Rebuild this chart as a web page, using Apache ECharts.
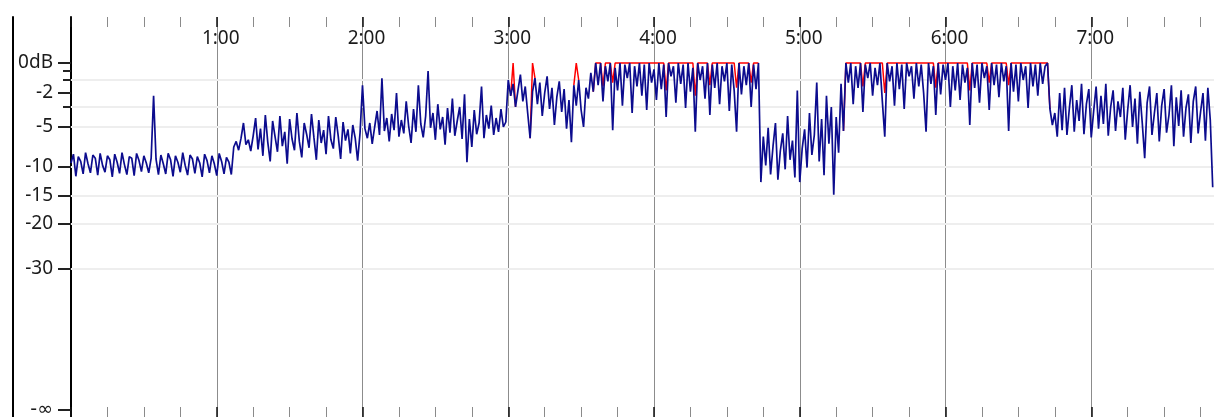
<!DOCTYPE html>
<html><head><meta charset="utf-8">
<script src="https://cdn.jsdelivr.net/npm/echarts@6/dist/echarts.min.js"></script>
<style>html,body{margin:0;padding:0;background:#fff}#c{width:1214px;height:417px}</style>
</head><body><div id="c"></div>
<script>
// Level per second (dB), index = seconds from 0 to 470
const levelDb = [
-9.5,-8.4,-11.6,-8.7,-9.3,-11.2,-8.2,-9.6,-11.0,-8.5,
-8.9,-11.4,-8.3,-9.8,-10.9,-8.6,-9.1,-11.7,-8.4,-9.4,
-11.1,-8.2,-9.7,-11.3,-8.7,-8.9,-11.5,-8.3,-9.2,-10.8,
-8.6,-9.5,-11.0,-8.9,-2.2,-9.0,-11.3,-8.5,-9.6,-11.2,
-8.3,-9.1,-11.6,-8.6,-9.4,-10.9,-8.2,-9.8,-11.4,-8.5,
-9.0,-11.1,-8.7,-9.5,-11.7,-8.4,-9.2,-11.0,-8.6,-9.6,
-11.5,-8.3,-9.3,-11.2,-8.8,-9.4,-11.3,-7.5,-6.8,-7.9,
-6.4,-4.6,-7.2,-6.6,-8.0,-6.1,-4.1,-7.8,-5.2,-8.6,
-3.8,-6.9,-9.3,-4.4,-6.2,-8.1,-3.9,-7.4,-5.6,-9.6,
-4.2,-6.5,-7.9,-3.6,-6.8,-8.8,-4.6,-5.9,-7.6,-3.7,
-6.3,-9.1,-4.3,-7.0,-5.4,-8.4,-3.9,-6.6,-7.7,-4.0,
-6.1,-9.0,-4.5,-6.7,-5.3,-8.3,-4.8,-6.4,-9.2,-5.7,
-1.4,-5.2,-6.4,-4.6,-7.1,-5.0,-3.4,-6.0,-0.9,-5.5,
-4.1,-6.8,-3.7,-5.4,-2.0,-6.2,-4.3,-5.8,-2.6,-4.9,
-7.0,-3.2,-5.6,-1.4,-4.7,-6.3,-3.9,-0.5,-5.1,-3.6,
-6.6,-2.8,-5.3,-4.0,-7.2,-3.1,-5.7,-2.4,-6.1,-4.4,
-3.0,-6.5,-2.1,-9.4,-4.2,-7.5,-3.3,-5.9,-4.6,-1.5,
-6.4,-3.8,-5.2,-2.9,-6.0,-4.1,-5.6,-3.2,-5.0,-4.5,
-1.0,-2.2,-1.3,-3.0,-1.8,-0.7,-2.6,-1.5,-3.6,-6.4,
-1.9,-0.9,-2.8,-1.2,-3.9,-2.0,-0.8,-3.2,-1.6,-4.8,
-2.3,-1.1,-3.5,-1.7,-5.2,-2.5,-6.9,-1.4,-2.9,-1.0,
-3.3,-5.0,-1.6,-2.4,-0.6,-1.9,0,-1.4,0,-2.6,
-0.2,-1.1,0,-5.4,-0.3,-1.8,0,-2.9,-0.1,-0.9,
0,-3.6,-0.2,-1.5,0,-2.2,-0.1,-3.3,0,-1.2,
-0.4,-2.5,0,-1.7,-0.1,-4.0,0,-0.8,-0.2,-2.7,
0,-1.3,-0.1,-3.1,0,-1.9,-0.3,-5.6,0,-1.0,
-0.2,-2.4,0,-3.8,-0.1,-1.6,0,-2.8,-0.2,-1.1,
0,-3.4,-0.1,-1.8,-5.6,0,-2.1,-0.2,-1.4,0,
-3.0,-0.1,-1.7,0,-12.6,-6.2,-9.8,-5.1,-11.3,-7.4,
-4.6,-12.2,-8.0,-5.8,-10.4,-3.9,-9.1,-6.7,-11.8,-1.8,
-12.6,-7.7,-5.3,-10.1,-3.6,-8.5,-6.0,-1.2,-9.3,-4.2,
-11.4,-2.2,-7.1,-3.0,-14.8,-4.0,-8.2,-1.3,-5.5,0,
-1.2,0,-2.8,-0.2,-1.6,0,-3.5,-0.1,-0.9,0,
-2.2,-0.3,-1.4,0,-2.6,-6.2,0,-1.1,-0.2,-2.9,
0,-1.7,-0.1,-3.2,0,-0.8,-0.2,-2.4,0,-1.5,
-0.1,-2.0,-5.6,0,-1.3,-0.2,-3.8,0,-2.1,-0.1,
-1.0,0,-3.0,-0.2,-1.8,0,-2.5,-0.1,-1.2,-0.3,
-4.8,0,-1.6,-0.1,-2.7,0,-0.9,-0.2,-3.3,0,
-1.4,-0.1,-2.3,0,-1.1,-0.2,-5.5,0,-1.9,-0.1,
-2.6,0,-1.0,-0.2,-3.1,0,-1.5,-0.1,-2.2,0,
-1.3,-0.2,0,-3.2,-4.8,-3.6,-6.2,-2.0,-5.4,-1.6,
-6.0,-3.1,-1.4,-5.6,-2.5,-4.4,-1.3,-5.9,-2.8,-1.7,
-6.3,-3.4,-1.5,-5.2,-2.2,-4.7,-1.3,-6.1,-3.0,-1.8,
-5.5,-2.6,-4.0,-1.6,-6.6,-3.3,-1.4,-5.0,-2.4,-7.1,
-1.9,-4.6,-8.9,-2.7,-1.5,-6.0,-3.6,-2.0,-6.8,-2.9,
-1.7,-5.7,-3.8,-1.4,-7.4,-2.3,-4.9,-1.8,-6.2,-3.1,
-2.1,-7.0,-2.6,-1.5,-5.8,-3.5,-2.0,-6.7,-1.6,-4.3,
-13.5
];

// Red peak (clipping) trace: [seconds, dB]; null breaks the line
const peakPoints = [
[181,-2.2],[182,0],[183,-3.0],null,
[189,-6.4],[190,0],[191,-0.9],null,
[207,-1.4],[208,0],[209,-1.0],null,
[215,-1.9],[216,0],[218,0],[219,-1.5],[220,0],[222,0],[223,-1.2],[224,0],
[244,0],[245,-1.8],[246,0],[256,0],[257,-2.2],[258,0],[262,0],[263,-1.4],[264,0],
[273,0],[274,-1.6],[275,0],[279,0],[280,-1.2],[281,0],[283,0],null,
[318,-5.5],[319,0],[325,0],[326,-1.5],[327,0],[334,0],[335,-2.0],[336,0],
[355,0],[356,-1.6],[357,0],[369,0],[370,-1.8],[371,0],[377,0],[378,-1.2],[379,0],
[385,0],[386,-1.4],[387,0],[402,0],[403,-3.2]
];

const yTickDb = [0,-2,-5,-10,-15,-20,-30,-Infinity];
const yTickLabels = ['0dB','-2','-5','-10','-15','-20','-30','-\u221E'];
const yMinorDb = [-0.5,-1,-3];
const gridDb = [-1,-3,-5,-10,-15,-20,-30];

// meter scale breakpoints (dB -> scale units)
const scaleDb  = [0,-0.5,-1,-2,-3,-5,-10,-15,-20,-30,-Infinity];
const scaleUnits = [0,-8,-17,-30,-44,-64,-104,-133,-161,-206,-347];
function pos(db){
  if (db >= 0) return 0;
  for (let i=0;i<scaleDb.length-1;i++){
    const a=scaleDb[i], b=scaleDb[i+1];
    if (db<=a && db>=b){
      if (b===-Infinity) return scaleUnits[i+1];
      return scaleUnits[i] + (db-a)/(b-a)*(scaleUnits[i+1]-scaleUnits[i]);
    }
  }
  return scaleUnits[scaleUnits.length-1];
}

const blueData = levelDb.map((v,i)=>[i,pos(v)]);
const redData = peakPoints.map(p=> p ? [p[0],pos(p[1])] : [null,null]);

const FONT = 'Noto Sans';
const chart = echarts.init(document.getElementById('c'), null, {renderer:'canvas'});
const majorPos = yTickDb.map(pos);
chart.setOption({
  animation:false,
  backgroundColor:'#ffffff',
  grid:{left:71, right:-23, top:17, bottom:0, containLabel:false, outerBoundsMode:'none'},
  xAxis:[{
    type:'value', position:'top', min:0, max:480, interval:60,
    axisLine:{show:false, onZero:false},
    axisTick:{show:true, inside:true, length:10, lineStyle:{color:'#111', width:1.5}},
    minorTick:{show:true, splitNumber:4, length:10, lineStyle:{color:'#8a8a8a', width:1}},
    splitLine:{show:true, lineStyle:{color:'#8c8c8c', width:1}},
    axisLabel:{inside:true, margin:12, color:'#1b1b1b', fontFamily:FONT, fontSize:19, padding:[0,0,0,8],
      formatter:v=> (v>0 && v%60===0) ? (v/60)+':00' : ''}
  },{
    type:'value', position:'bottom', min:0, max:480, interval:60,
    axisLine:{show:false, onZero:false},
    axisTick:{show:true, inside:true, length:10, lineStyle:{color:'#111', width:1.5}},
    minorTick:{show:true, splitNumber:4, length:10, lineStyle:{color:'#8a8a8a', width:1}},
    splitLine:{show:false}, axisLabel:{show:false}
  }],
  yAxis:[{
    type:'value', position:'left', min:-354, max:46,
    axisLine:{show:true, onZero:false, lineStyle:{color:'#000', width:2}},
    axisTick:{show:true, length:13, customValues:majorPos, lineStyle:{color:'#222', width:2}},
    splitLine:{show:false},
    axisLabel:{show:true, margin:18, customValues:majorPos, color:'#1b1b1b', fontFamily:FONT, fontSize:19,
      formatter:v=>{ const i=majorPos.findIndex(p=>Math.abs(p-v)<0.5); if(i<0) return ''; return i===yTickLabels.length-1 ? '{inf|'+yTickLabels[i]+'}' : yTickLabels[i]; },
      rich:{inf:{fontFamily:'DejaVu Sans', fontSize:19, color:'#1b1b1b'}}}
  },{
    type:'value', position:'left', min:-354, max:46, offset:0,
    axisLine:{show:false, onZero:false},
    axisTick:{show:true, length:8, customValues:yMinorDb.map(pos), lineStyle:{color:'#222', width:2}},
    axisLabel:{show:false}, splitLine:{show:false}
  },{
    type:'value', position:'left', min:-354, max:46, offset:58,
    axisLine:{show:true, onZero:false, lineStyle:{color:'#000', width:2}},
    axisTick:{show:false}, axisLabel:{show:false}, splitLine:{show:false}
  }],
  series:[{
    type:'line', name:'peak', data:redData, xAxisIndex:0, yAxisIndex:0, z:2,
    showSymbol:false, connectNulls:false,
    lineStyle:{color:'#ff0000', width:1.5},
    markLine:{silent:true, z:1, symbol:['none','none'], label:{show:false},
      lineStyle:{type:'solid', color:'#eeeeee', width:2},
      emphasis:{disabled:true},
      data:gridDb.map(d=>({yAxis:pos(d)}))}
  },{
    type:'line', name:'level', data:blueData, xAxisIndex:0, yAxisIndex:0, z:3,
    showSymbol:false, lineStyle:{color:'#0c0c8e', width:1.7}
  }]
});
</script></body></html>
